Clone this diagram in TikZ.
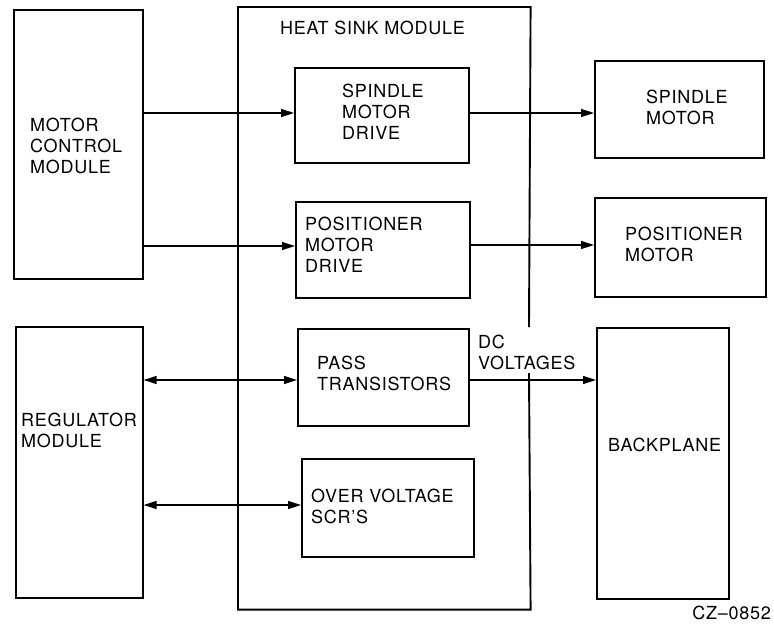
\documentclass[tikz,border=0pt]{standalone}
\usepackage{fontspec}
\setmainfont{TeX Gyre Heros}[LetterSpace=4]
\usetikzlibrary{arrows.meta}
\begin{document}
\begin{tikzpicture}[x=1pt,y=-1pt,
  box/.style={draw,line width=1.6pt,inner sep=0pt,anchor=north west},
  lbl/.style={align=left,anchor=west,inner sep=0pt,font=\fontsize{18}{21}\selectfont},
  arr/.style={line width=1.4pt,-{Triangle[length=13pt,width=8pt]}},
  darr/.style={line width=1.4pt,{Triangle[length=13pt,width=8pt]}-{Triangle[length=13pt,width=8pt]}}]
\useasboundingbox (0,0) rectangle (774,630);
\newcommand{\bx}[5]{\node[box,minimum width=#4pt-#2pt,minimum height=#5pt-#3pt] (#1) at (#2,#3) {};}
% boxes
\bx{mcm}{13}{9}{142}{278}
\bx{reg}{15}{326}{142}{597}
\node[box,draw=none,minimum width=291pt,minimum height=601pt] (hs) at (238,7) {};
\bx{sdrive}{294}{67}{468}{162}
\bx{pdrive}{295}{201}{469}{297}
\bx{pass}{297}{328}{468}{425}
\bx{ovs}{301}{458}{473}{556}
\bx{smotor}{594}{60}{763}{157}
\bx{pmotor}{594}{197}{765}{296}
\bx{bp}{596}{327}{728}{598}
% heat sink outline with gap
\coordinate (gtop) at (529,327);
\coordinate (gbot) at (529,373);
\draw[line width=1.9pt] (gtop) -- (hs.north east) -- (hs.north west) -- (hs.south west) -- (hs.south east) -- (gbot);
% labels
\node[lbl] (thsm) at (280,28) {HEAT SINK MODULE};
\node[lbl] (tmcm) at (30,146) {MOTOR\\CONTROL\\MODULE};
\node[lbl] (treg) at (21,430) {REGULATOR\\MODULE};
\node[lbl] (tsd) at (342,112) {SPINDLE\\MOTOR\\DRIVE};
\node[lbl] (tpd) at (305,245) {POSITIONER\\MOTOR\\DRIVE};
\node[lbl] (tpass) at (317,373) {PASS\\TRANSISTORS};
\node[lbl] (tovs) at (311,506) {OVER VOLTAGE\\SCR’S};
\node[lbl] (tsm) at (646,107) {SPINDLE\\MOTOR};
\node[lbl] (tpm) at (625,244) {POSITIONER\\MOTOR};
\node[lbl] (tbp) at (608,445) {BACKPLANE};
\node[lbl] (tdc) at (478,352) {DC\\VOLTAGES};
\node[anchor=east,inner sep=0pt,font=\fontsize{18}{21}\selectfont] (tcz) at (771,613) {CZ–0852};
% connectors
\draw[arr] (mcm.east |- 0,113) -- (sdrive.west |- 0,113);
\draw[arr] (sdrive.east |- 0,113) -- (smotor.west |- 0,113);
\draw[arr] (mcm.east |- 0,246) -- (pdrive.west |- 0,246);
\draw[arr] (pdrive.east |- 0,245) -- (pmotor.west |- 0,245);
\draw[darr] (reg.east |- 0,380) -- (pass.west |- 0,380);
\draw[arr] (pass.east |- 0,380) -- (bp.west |- 0,380);
\draw[darr] (reg.east |- 0,505) -- (ovs.west |- 0,505);
\end{tikzpicture}
\end{document}
